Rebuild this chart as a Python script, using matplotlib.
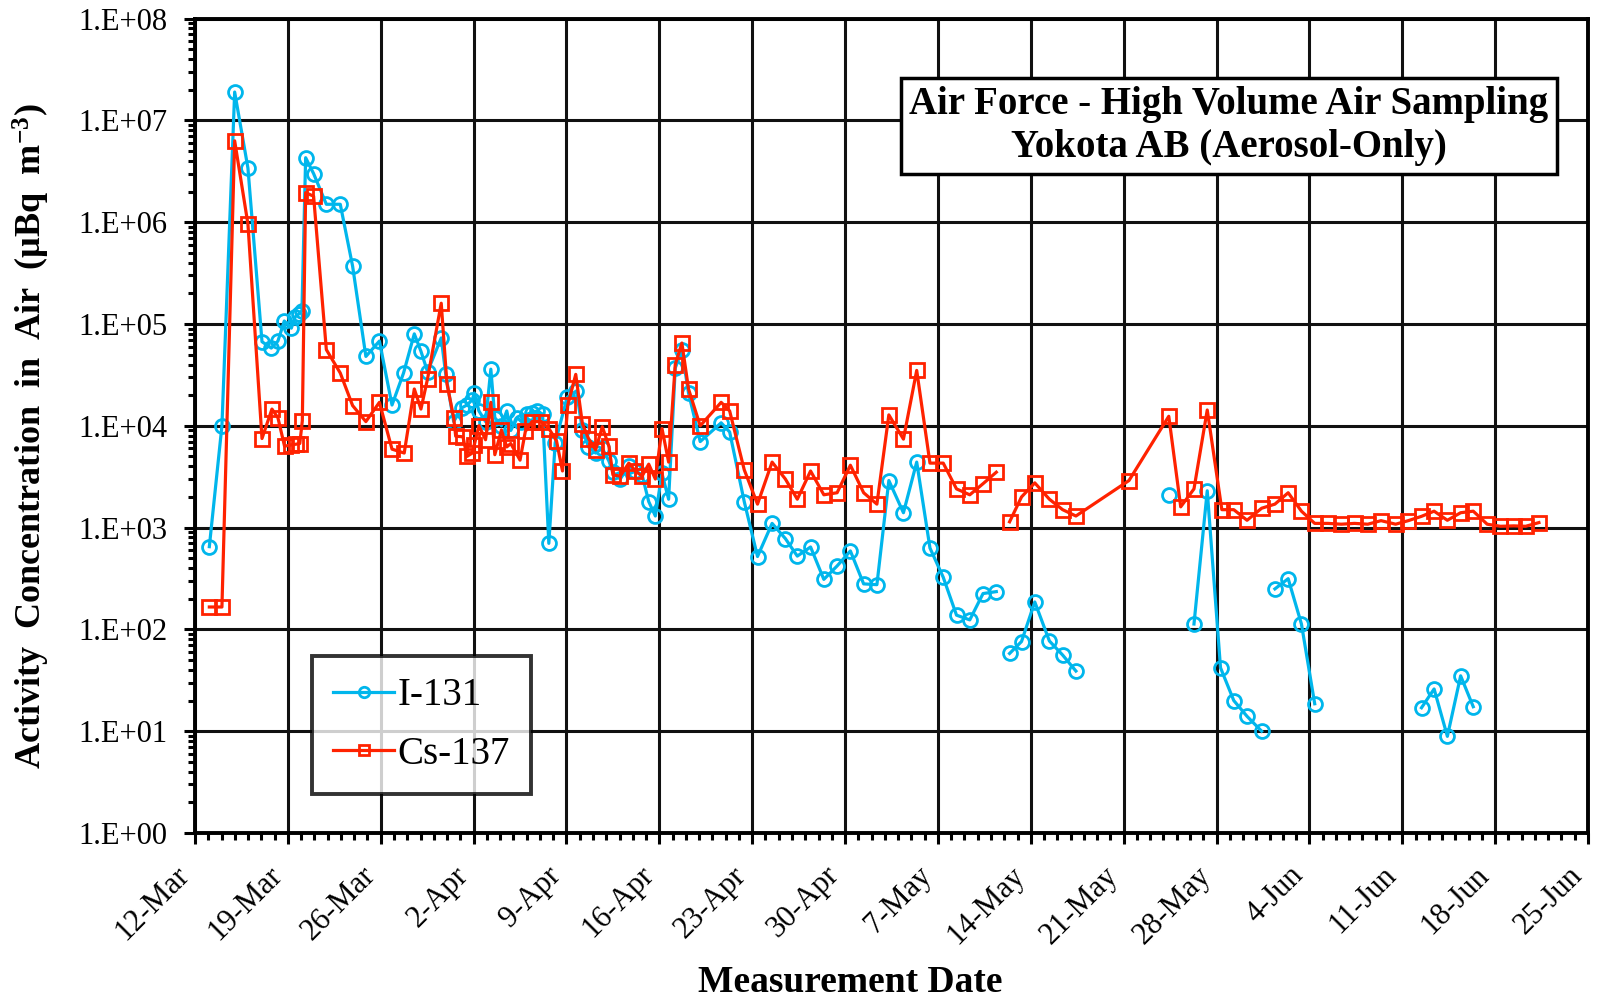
import numpy as np
import matplotlib
matplotlib.use("Agg")
import matplotlib.pyplot as plt
from matplotlib.ticker import FixedLocator, LogLocator, NullFormatter

plt.rcParams['font.family'] = ['Liberation Serif', 'DejaVu Serif']
plt.rcParams['mathtext.fontset'] = 'custom'
plt.rcParams['mathtext.rm'] = 'Liberation Serif:bold'
plt.rcParams['mathtext.it'] = 'Liberation Serif:bold'
plt.rcParams['mathtext.default'] = 'rm'

nan = np.nan

# ---- data (days since 12-Mar 00:00) ----
i131_days = [1.08, 2.03, 2.99, 3.99, 5.05, 5.75, 6.25, 6.73, 7.26, 7.56, 7.81, 8.06, 8.34, 8.94,
             9.90, 10.95, 11.88, 12.88, 13.90, 14.85, 15.72, 16.53, 17.03, 17.53, 18.56, 18.90,
             19.50, 20.10, 20.50, 20.90, 21.05, 21.40, 21.90, 22.30, 22.60, 23.10, 23.50, 23.80,
             24.30, 24.60, 25.00, 25.40, 25.80, 26.20, 26.67, 27.15, 28.05, 28.75, 29.20, 29.66,
             30.20, 30.70, 31.20, 31.50, 32.05, 32.70, 33.20, 33.70, 34.20, 34.70, 35.20, 35.70,
             36.20, 36.70, 37.20, 38.08, 39.66, 40.30, 41.40, 42.40, 43.50, 44.50, 45.40, 46.40,
             47.40, 48.40, 49.40, 50.40, 51.40, 52.30, 53.40, 54.40, 55.40, 56.40, 57.40, 58.40,
             59.40, 60.40, 60.90,
             61.40, 62.30, 63.30, 64.40, 65.40, 66.40, 70.00,
             73.40, 74.30,
             75.30, 76.30, 77.30, 78.30, 79.30, 80.40, 80.90,
             81.40, 82.40, 83.40, 84.40, 88.00,
             92.45, 93.40, 94.40, 95.40, 96.35]
i131_vals = [650, 1.0e4, 1.9e7, 3.4e6, 6.7e4, 5.8e4, 6.8e4, 1.07e5, 9.1e4, 1.18e5, 1.25e5, 1.35e5,
             4.3e6, 3.0e6, 1.5e6, 1.5e6, 3.7e5, 4.8e4, 6.8e4, 1.6e4, 3.3e4, 8.0e4, 5.4e4, 3.4e4,
             7.3e4, 3.2e4, 1.1e4, 1.5e4, 1.6e4, 1.8e4, 2.1e4, 1.4e4, 1.1e4, 3.6e4, 1.2e4, 1.0e4,
             1.4e4, 9.0e3, 1.2e4, 1.1e4, 1.3e4, 1.35e4, 1.4e4, 1.3e4, 700, 6.8e3, 1.9e4, 2.2e4,
             9.1e3, 6.2e3, 5.4e3, 6.0e3, 4.5e3, 3.5e3, 3.0e3, 4.0e3, 3.6e3, 3.3e3, 1.8e3, 1.3e3,
             3.4e3, 1.9e3, 3.7e4, 5.5e4, 2.1e4, 7.0e3, 1.07e4, 8.7e3, 1.8e3, 520, 1.1e3, 780,
             525, 645, 310, 420, 590, 280, 275, 2.9e3, 1.4e3, 4.4e3, 630, 325, 138, 124, 225, 235,
             nan,
             58, 76, 186, 77, 56, 39, nan,
             2.1e3, nan,
             113, 2.3e3, 42, 20, 14, 10, nan,
             250, 315, 113, 18.6, nan,
             17, 26, 8.9, 35, 17.4]

cs137_days = [1.08, 2.03, 2.99, 3.99, 5.05, 5.80, 6.25, 6.75, 7.26, 7.63, 7.90, 8.09, 8.34, 8.94,
              9.90, 10.95, 11.88, 12.88, 13.90, 14.85, 15.77, 16.53, 17.03, 17.53, 18.56, 18.99,
              19.50, 19.65, 20.20, 20.50, 20.90, 21.05, 21.40, 21.90, 22.30, 22.60, 23.10, 23.50,
              23.80, 24.50, 24.90, 25.40, 26.10, 26.70, 27.25, 27.70, 28.10, 28.70, 29.20, 29.66,
              30.20, 30.70, 31.20, 31.50, 32.05, 32.70, 33.20, 33.70, 34.20, 34.70, 35.20, 35.70,
              36.20, 36.70, 37.20, 38.08, 39.66, 40.30, 41.40, 42.40, 43.50, 44.50, 45.40, 46.40,
              47.40, 48.40, 49.40, 50.40, 51.40, 52.30, 53.40, 54.40, 55.40, 56.40, 57.40, 58.40,
              59.40, 60.40, 60.90,
              61.40, 62.30, 63.30, 64.40, 65.40, 66.40, 70.40, 73.40, 74.30, 75.30, 76.30, 77.40,
              78.30, 79.30, 80.40, 81.40, 82.40, 83.40, 84.40, 85.40, 86.40, 87.40, 88.40, 89.40,
              90.50, 91.45, 92.45, 93.40, 94.40, 95.40, 96.35, 97.40, 98.40, 99.40, 100.30, 101.30]
cs137_vals = [166, 166, 6.3e6, 9.6e5, 7.5e3, 1.46e4, 1.2e4, 6.3e3, 6.5e3, 6.6e3, 6.7e3, 1.12e4,
              1.95e6, 1.8e6, 5.6e4, 3.3e4, 1.58e4, 1.1e4, 1.7e4, 5.9e3, 5.4e3, 2.3e4, 1.46e4, 2.9e4,
              1.6e5, 2.6e4, 1.2e4, 7.9e3, 7.8e3, 5.0e3, 5.4e3, 6.5e3, 1.0e4, 7.3e3, 1.7e4, 5.2e3,
              9.1e3, 6.2e3, 6.7e3, 4.6e3, 8.8e3, 1.1e4, 1.1e4, 9.3e3, 7.1e3, 3.6e3, 1.6e4, 3.2e4,
              1.05e4, 7.5e3, 5.8e3, 9.8e3, 6.3e3, 3.3e3, 3.2e3, 4.3e3, 3.6e3, 3.2e3, 4.2e3, 3.0e3,
              9.4e3, 4.4e3, 4.0e4, 6.5e4, 2.3e4, 1.0e4, 1.7e4, 1.4e4, 3.7e3, 1.7e3, 4.4e3, 3.0e3,
              1.9e3, 3.6e3, 2.1e3, 2.2e3, 4.1e3, 2.2e3, 1.7e3, 1.28e4, 7.4e3, 3.5e4, 4.3e3, 4.3e3,
              2.4e3, 2.1e3, 2.7e3, 3.5e3, nan,
              1.14e3, 2.0e3, 2.75e3, 1.9e3, 1.5e3, 1.3e3, 2.9e3, 1.24e4, 1.6e3, 2.4e3, 1.43e4,
              1.5e3, 1.5e3, 1.18e3, 1.55e3, 1.7e3, 2.2e3, 1.45e3, 1.1e3, 1.1e3, 1.08e3, 1.1e3,
              1.08e3, 1.17e3, 1.08e3, 1.17e3, 1.29e3, 1.45e3, 1.18e3, 1.4e3, 1.45e3, 1.08e3,
              1.03e3, 1.04e3, 1.03e3, 1.12e3]

date_labels = ['12-Mar', '19-Mar', '26-Mar', '2-Apr', '9-Apr', '16-Apr', '23-Apr', '30-Apr',
               '7-May', '14-May', '21-May', '28-May', '4-Jun', '11-Jun', '18-Jun', '25-Jun']
y_labels = ['1.E+00', '1.E+01', '1.E+02', '1.E+03', '1.E+04', '1.E+05', '1.E+06', '1.E+07', '1.E+08']

# ---- figure ----
W, H = 1605, 1001
fig = plt.figure(figsize=(W/100, H/100), dpi=100)
ax_l, ax_r, ax_t, ax_b = 195, 1588, 18.6, 833
ax = fig.add_axes([ax_l/W, 1-ax_b/H, (ax_r-ax_l)/W, (ax_b-ax_t)/H])

cyan = '#00B6EC'
red = '#FF2200'

ax.plot(i131_days, i131_vals, color=cyan, lw=2.3, marker='o', ms=10, mfc='none',
        mec=cyan, mew=2.0, label='I-131', zorder=4)
ax.plot(cs137_days, cs137_vals, color=red, lw=2.3, marker='s', ms=10, mfc='none',
        mec=red, mew=2.0, label='Cs-137', zorder=5)

ax.set_yscale('log')
ax.set_ylim(1, 1e8)
ax.set_xlim(0, 7*(len(date_labels)-1))

ax.xaxis.set_major_locator(FixedLocator([7*i for i in range(len(date_labels))]))
ax.xaxis.set_minor_locator(FixedLocator(list(range(0, 7*(len(date_labels)-1)+1))))
ax.set_xticklabels(date_labels, rotation=45, ha='right', va='top',
                   rotation_mode='default', fontsize=22)

ax.yaxis.set_major_locator(FixedLocator([10.0**k for k in range(9)]))
ax.yaxis.set_minor_locator(LogLocator(base=10, subs=np.arange(2, 10), numticks=20))
ax.yaxis.set_minor_formatter(NullFormatter())
ax.set_yticklabels(y_labels, fontsize=22)

ax.tick_params(axis='both', which='major', direction='out', length=8, width=2.2, color='black')
ax.tick_params(axis='both', which='minor', direction='out', length=5, width=2.2, color='black')
ax.tick_params(axis='y', which='major', pad=12)
ax.tick_params(axis='x', which='major', pad=12)

ax.grid(True, which='major', color='#111111', lw=2.2, zorder=1)
for s in ax.spines.values():
    s.set_linewidth(2.8)
    s.set_color('black')
ax.set_axisbelow(True)

fig.text(850/W, 1-983/H, 'Measurement Date', fontsize=27, fontweight='bold',
         ha='center', va='center')
fig.text(31/W, 1-436/H, 'Activity  Concentration  in  Air  (µBq  m$^{-3}$)', fontsize=26,
         fontweight='bold', rotation=90, ha='center', va='center')

# Title box
ax.text((1229-ax_l)/(ax_r-ax_l), 1-(126-ax_t)/(ax_b-ax_t),
        'Air Force - High Volume Air Sampling\nYokota AB (Aerosol-Only)',
        transform=ax.transAxes, ha='center', va='center', fontsize=28, fontweight='bold',
        linespacing=1.2, zorder=10,
        bbox=dict(boxstyle='square,pad=0.22', fc='white', ec='black', lw=2.5))

leg = ax.legend(loc='upper left',
                bbox_to_anchor=((312-ax_l)/(ax_r-ax_l), 1-(656-ax_t)/(ax_b-ax_t)),
                borderaxespad=0, fontsize=28, frameon=True, fancybox=False, edgecolor='black',
                handlelength=1.55, handletextpad=0.1, borderpad=0.55, labelspacing=0.55,
                markerscale=0.75)
leg.get_frame().set_linewidth(2.8)
leg.set_zorder(10)

fig.savefig('out.png', dpi=100, facecolor='white')
